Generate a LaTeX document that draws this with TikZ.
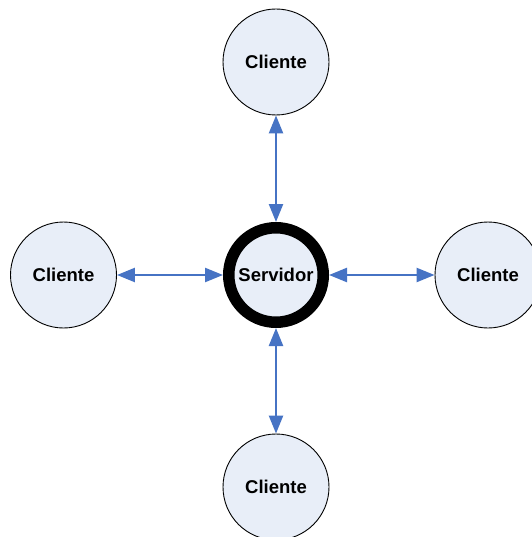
\documentclass[tikz,border=0pt]{standalone}
\usepackage{fontspec}
\setmainfont{Liberation Sans}
\usetikzlibrary{arrows.meta}
\definecolor{nodefill}{RGB}{232,238,248}
\definecolor{linkblue}{RGB}{70,115,196}
\begin{document}
\begin{tikzpicture}[x=1pt,y=-1pt,
  client/.style={circle,draw=black,line width=0.9pt,fill=nodefill,minimum size=106pt,inner sep=0pt,
    font=\fontsize{18.5}{21}\selectfont\bfseries},
  server/.style={circle,draw=black,line width=11.5pt,fill=nodefill,minimum size=94.5pt,inner sep=0pt,
    font=\fontsize{18.5}{21}\selectfont\bfseries},
  link/.style={draw=linkblue,line width=2.4pt,
    {Triangle[length=18pt,width=14pt]}-{Triangle[length=18pt,width=14pt]}}]
\useasboundingbox (0,0) rectangle (531,537);
\node[server] (srv) at (276,275) {Servidor};
\node[client] (top) at (276,62) {Cliente};
\node[client] (left) at (63.5,275) {Cliente};
\node[client] (right) at (488,275) {Cliente};
\node[client] (bottom) at (276,487) {Cliente};
\draw[link] (top) -- (srv.north);
\draw[link] (left) -- (srv.west);
\draw[link] (right) -- (srv.east);
\draw[link] (bottom) -- (srv.south);
\end{tikzpicture}
\end{document}
